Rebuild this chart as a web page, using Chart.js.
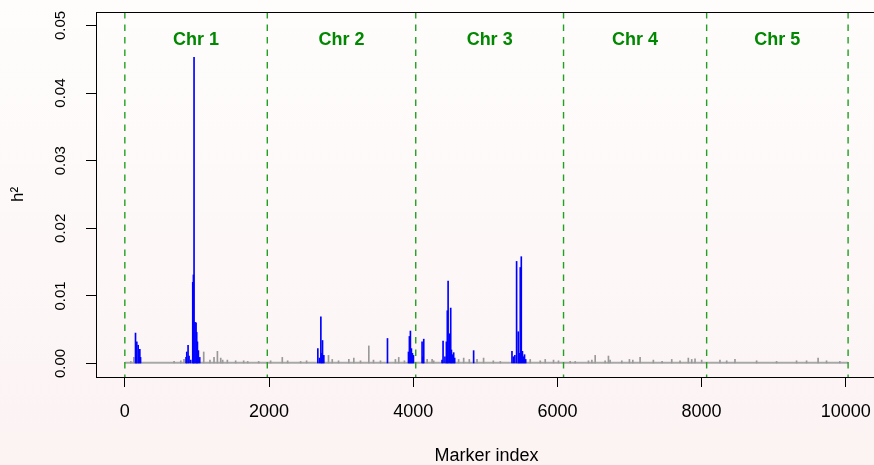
<!DOCTYPE html>
<html>
<head>
<meta charset="utf-8">
<script src="https://cdn.jsdelivr.net/npm/chart.js@4.4.0/dist/chart.umd.min.js"></script>
<style>
  html, body { margin: 0; padding: 0; }
  body { width: 874px; height: 465px; overflow: hidden; background: linear-gradient(#fefdfc, #fcf3f3); }
  canvas { position: absolute; left: 0; top: 0; }
</style>
</head>
<body>
<canvas id="gwas" width="880" height="465"></canvas>
<script>
// chromosome layout (marker index of the boundaries)
const chrNames = ['Chr 1', 'Chr 2', 'Chr 3', 'Chr 4', 'Chr 5'];
const chrBounds = [0, 1976, 4035, 6085, 8070, 10032];

const xTickValues = [0, 2000, 4000, 6000, 8000, 10000];
const yTickValues = [0, 0.01, 0.02, 0.03, 0.04, 0.05];

// markers above the threshold (blue)
const blueIdx = [148, 155, 166, 185, 195, 208, 218,
  849, 859, 877, 891, 914, 942, 951, 960, 974, 988, 997, 1007, 1020, 1039,
  2677, 2700, 2719, 2730, 2742, 2760, 3643,
  3934, 3947, 3961, 3975, 3989, 4003, 4123, 4135, 4146,
  4400, 4414, 4440, 4460, 4473, 4484, 4501, 4520, 4530, 4545, 4561, 4575, 4838,
  5370, 5390, 5410, 5434, 5457, 5470, 5485, 5499, 5515, 5530, 5544, 5560];
const blueH2 = [0.0045, 0.0012, 0.0032, 0.0027, 0.0014, 0.0021, 0.0009,
  0.0009, 0.0017, 0.0027, 0.0011, 0.0005, 0.0120, 0.0131, 0.0453, 0.0061, 0.0060, 0.0046, 0.0032, 0.0019, 0.0009,
  0.0022, 0.0008, 0.0069, 0.0015, 0.0034, 0.0012, 0.0037,
  0.0017, 0.0040, 0.0048, 0.0022, 0.0015, 0.0012, 0.0032, 0.0010, 0.0036,
  0.0005, 0.0033, 0.0010, 0.0032, 0.0078, 0.0122, 0.0044, 0.0082, 0.0020, 0.0013, 0.0016, 0.0008, 0.0019,
  0.0018, 0.0010, 0.0012, 0.0151, 0.0047, 0.0015, 0.0142, 0.0158, 0.0018, 0.0010, 0.0013, 0.0006];

// other markers (grey)
const grayIdx = [83, 125, 683, 776, 821, 1094, 1181, 1237, 1284, 1330, 1357, 1422, 1537, 1648, 1704, 1856,
  2022, 2184, 2258, 2438, 2521, 2825, 2877, 2964, 3107, 3176, 3269, 3384, 3449, 3546, 3753, 3799, 3878,
  4193, 4262, 4284, 4630, 4700, 4778, 4885, 4976, 5111, 5208, 5623, 5762, 5831, 5946, 6015,
  6177, 6247, 6431, 6478, 6524, 6662, 6708, 6731, 6893, 6999, 7046, 7147, 7331, 7452, 7586, 7701, 7816, 7863, 7909, 8001,
  8255, 8348, 8463, 8763, 9040, 9317, 9456, 9616, 9733, 9917];
const grayH2 = [0.0003, 0.0009, 0.0003, 0.0004, 0.0006, 0.0017, 0.0005, 0.0009, 0.0018, 0.0008, 0.0005, 0.0005, 0.0004, 0.0004, 0.0003, 0.0003,
  0.0004, 0.0009, 0.0004, 0.0003, 0.0004, 0.0012, 0.0006, 0.0004, 0.0006, 0.0008, 0.0004, 0.0026, 0.0005, 0.0004, 0.0006, 0.0009, 0.0004,
  0.0006, 0.0006, 0.0004, 0.0006, 0.0008, 0.0006, 0.0006, 0.0008, 0.0004, 0.0003, 0.0006, 0.0004, 0.0006, 0.0005, 0.0004,
  0.0003, 0.0003, 0.0004, 0.0005, 0.0012, 0.0004, 0.0011, 0.0005, 0.0004, 0.0006, 0.0005, 0.0009, 0.0005, 0.0003, 0.0006, 0.0004, 0.0008, 0.0006, 0.0007, 0.0005,
  0.0005, 0.0004, 0.0006, 0.0004, 0.0003, 0.0004, 0.0004, 0.0008, 0.0004, 0.0003];

// level of the dense grey floor of all remaining markers
const floorH2 = 0.0001;

const FONT = '"Liberation Sans", Arial, sans-serif';
const chrLabelY = 0.0479;

const toPoints = (xs, ys) => xs.map((x, i) => ({ x: x, y: ys[i] }));

const chrLines = chrBounds.map(b => ({
  type: 'line',
  data: [{ x: b, y: 0.052 }, { x: b, y: -0.002 }],
  borderColor: '#22a022',
  borderWidth: 1.4,
  borderDash: [6.5, 6],
  pointRadius: 0,
  order: 0
}));

const rBox = {
  id: 'rBox',
  afterDraw(chart) {
    const { ctx, chartArea: a, scales: { x, y } } = chart;
    ctx.save();
    ctx.strokeStyle = '#000';
    ctx.lineWidth = 1;
    ctx.strokeRect(a.left + 0.5, a.top + 0.5, a.right - a.left, a.bottom - a.top);
    ctx.fillStyle = '#008800';
    ctx.font = 'bold 18px ' + FONT;
    ctx.textAlign = 'center';
    ctx.textBaseline = 'middle';
    chrNames.forEach((n, i) => {
      const mid = (chrBounds[i] + chrBounds[i + 1]) / 2;
      ctx.fillText(n, x.getPixelForValue(mid), y.getPixelForValue(chrLabelY));
    });
    ctx.restore();
  }
};

new Chart(document.getElementById('gwas'), {
  type: 'bar',
  data: {
    datasets: [
      ...chrLines,
      { type: 'bar', data: toPoints(blueIdx, blueH2), backgroundColor: '#0000ff', barThickness: 1, grouped: false, order: 1 },
      { type: 'bar', data: toPoints(grayIdx, grayH2), backgroundColor: '#999999', barThickness: 1, grouped: false, order: 2 },
      { type: 'line', data: [{ x: 1, y: floorH2 }, { x: chrBounds[5], y: floorH2 }], borderColor: '#a8a8a8', borderWidth: 2, pointRadius: 0, order: 3 }
    ]
  },
  options: {
    responsive: false,
    animation: false,
    devicePixelRatio: 1,
    layout: { padding: { top: 12, right: 3, left: 0, bottom: 0 } },
    plugins: { legend: { display: false }, tooltip: { enabled: false } },
    scales: {
      x: {
        type: 'linear',
        min: -400,
        max: 10433,
        offset: false,
        afterBuildTicks: s => { s.ticks = xTickValues.map(v => ({ value: v })); },
        afterFit: s => { s.height = 88; s.paddingLeft = 0; s.paddingRight = 0; },
        grid: { drawOnChartArea: false, drawTicks: true, tickLength: 10, tickColor: '#000', offset: false },
        border: { display: true, color: '#000', width: 1 },
        ticks: { color: '#000', font: { family: FONT, size: 18 }, padding: 14, maxRotation: 0, autoSkip: false, callback: v => String(v) },
        title: { display: true, text: 'Marker index', color: '#000', font: { family: FONT, size: 18, lineHeight: 1 }, padding: 0 }
      },
      y: {
        type: 'linear',
        min: -0.002,
        max: 0.052,
        afterBuildTicks: s => { s.ticks = yTickValues.map(v => ({ value: v })); },
        afterFit: s => { s.width = 96; s.paddingTop = 0; s.paddingBottom = 0; },
        grid: { drawOnChartArea: false, drawTicks: true, tickLength: 10, tickColor: '#000' },
        border: { display: true, color: '#000', width: 1 },
        ticks: { color: '#000', font: { family: FONT, size: 15 }, minRotation: 90, maxRotation: 90, crossAlign: 'center', padding: 11, autoSkip: false, callback: v => v.toFixed(2) },
        title: { display: true, text: 'h²', color: '#000', font: { family: FONT, size: 17, lineHeight: 1 }, padding: { top: 10, bottom: 0 } }
      }
    }
  },
  plugins: [rBox]
});
</script>
</body>
</html>
